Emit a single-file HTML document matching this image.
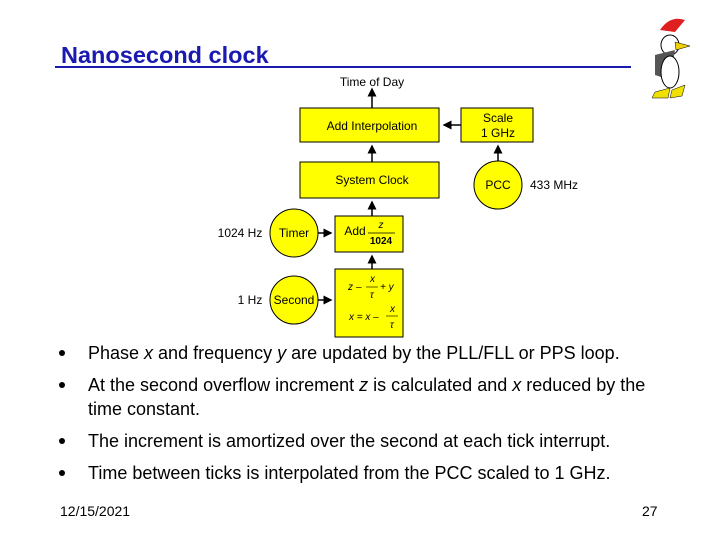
<!DOCTYPE html>
<html><head><style>
body{margin:0;width:720px;height:540px;background:#fff;position:relative;font-family:"Liberation Sans",sans-serif;overflow:hidden}
.t{position:absolute;white-space:nowrap}
.b{position:absolute;left:58px;width:640px;font-size:18px;color:#000}
.b span{position:absolute;left:30px;top:0;width:600px;line-height:24px}
.b i.d{position:absolute;left:1px;top:9px;width:6px;height:6px;border-radius:50%;background:#000}
</style></head><body>
<div class="t" style="left:61px;top:42px;font-size:23.5px;font-weight:bold;color:#1a1ab0">Nanosecond clock</div>
<div style="position:absolute;left:55px;top:66px;width:576px;height:2px;background:#1a1ab0"></div>
<svg width="720" height="540" style="position:absolute;left:0;top:0" font-family="Liberation Sans, sans-serif" font-size="12">
<defs><marker id="a" markerWidth="6" markerHeight="6" refX="5" refY="3" orient="auto"><path d="M0,0L6,3L0,6z" fill="#000"/></marker></defs>
<g stroke="#000" stroke-width="1" fill="#ffff00">
<rect x="300" y="108" width="139" height="34"/>
<rect x="461" y="108" width="72" height="34"/>
<rect x="300" y="162" width="139" height="36"/>
<rect x="335" y="216" width="68" height="36"/>
<rect x="335" y="269" width="68" height="68"/>
<circle cx="498" cy="185" r="24"/>
<circle cx="294" cy="233" r="24"/>
<circle cx="294" cy="300" r="24"/>
</g>
<g stroke="#000" stroke-width="1.5" marker-end="url(#a)">
<line x1="372" y1="108" x2="372" y2="89"/>
<line x1="461" y1="125" x2="444" y2="125"/>
<line x1="372" y1="162" x2="372" y2="146"/>
<line x1="498" y1="161" x2="498" y2="146"/>
<line x1="372" y1="216" x2="372" y2="202"/>
<line x1="372" y1="269" x2="372" y2="256"/>
<line x1="318" y1="233" x2="331" y2="233"/>
<line x1="318" y1="300" x2="331" y2="300"/>
</g>
<g fill="#000" text-anchor="middle">
<text x="372" y="86">Time of Day</text>
<text x="372" y="130">Add Interpolation</text>
<text x="498" y="122">Scale</text>
<text x="498" y="137">1 GHz</text>
<text x="372" y="184">System Clock</text>
<text x="498" y="189">PCC</text>
<text x="294" y="237">Timer</text>
<text x="294" y="304">Second</text>
<text x="240" y="237">1024 Hz</text>
<text x="250" y="304">1 Hz</text>
<text x="554" y="189">433 MHz</text>
<text x="355" y="235">Add</text>
<text x="381" y="228" font-style="italic" font-size="10">z</text>
<text x="381" y="244" font-size="10" font-weight="bold">1024</text>
</g>
<line x1="368" y1="233" x2="395" y2="233" stroke="#000" stroke-width="0.7"/>
<g font-style="italic" font-size="10" fill="#000">
<text x="348" y="290">z</text><text x="356" y="290">–</text><text x="370" y="282">x</text><text x="370" y="298">τ</text><text x="380" y="290">+ y</text>
<line x1="366" y1="287" x2="378" y2="287" stroke="#000" stroke-width="0.6"/>
<text x="349" y="320">x = x –</text><text x="390" y="312">x</text><text x="390" y="328">τ</text>
<line x1="386" y1="316" x2="398" y2="316" stroke="#000" stroke-width="0.6"/>
</g>
<g transform="translate(640,10)">
<path d="M20,20 Q30,5 45,10 L35,22z" fill="#e02020"/>
<ellipse cx="30" cy="35" rx="9" ry="10" fill="#fff" stroke="#000"/>
<path d="M35,32 L50,36 L36,40z" fill="#f0d000" stroke="#000" stroke-width="0.5"/>
<path d="M15,45 L35,40 L30,70 L15,65z" fill="#555"/>
<ellipse cx="30" cy="62" rx="9" ry="16" fill="#fff" stroke="#000"/>
<path d="M15,82 L30,78 L28,88 L12,88z M32,80 L45,75 L42,86 L30,88z" fill="#f0e000" stroke="#000" stroke-width="0.5"/>
</g>
</svg>
<div class="b" style="top:341px"><i class="d"></i><span>Phase <i>x</i> and frequency <i>y</i> are updated by the PLL/FLL or PPS loop.</span></div>
<div class="b" style="top:373px"><i class="d"></i><span>At the second overflow increment <i>z</i> is calculated and <i>x</i> reduced by the<br>time constant.</span></div>
<div class="b" style="top:429px"><i class="d"></i><span>The increment is amortized over the second at each tick interrupt.</span></div>
<div class="b" style="top:461px"><i class="d"></i><span>Time between ticks is interpolated from the PCC scaled to 1 GHz.</span></div>
<div class="t" style="left:60px;top:503px;font-size:14px">12/15/2021</div>
<div class="t" style="left:642px;top:503px;font-size:14px">27</div>
</body></html>
